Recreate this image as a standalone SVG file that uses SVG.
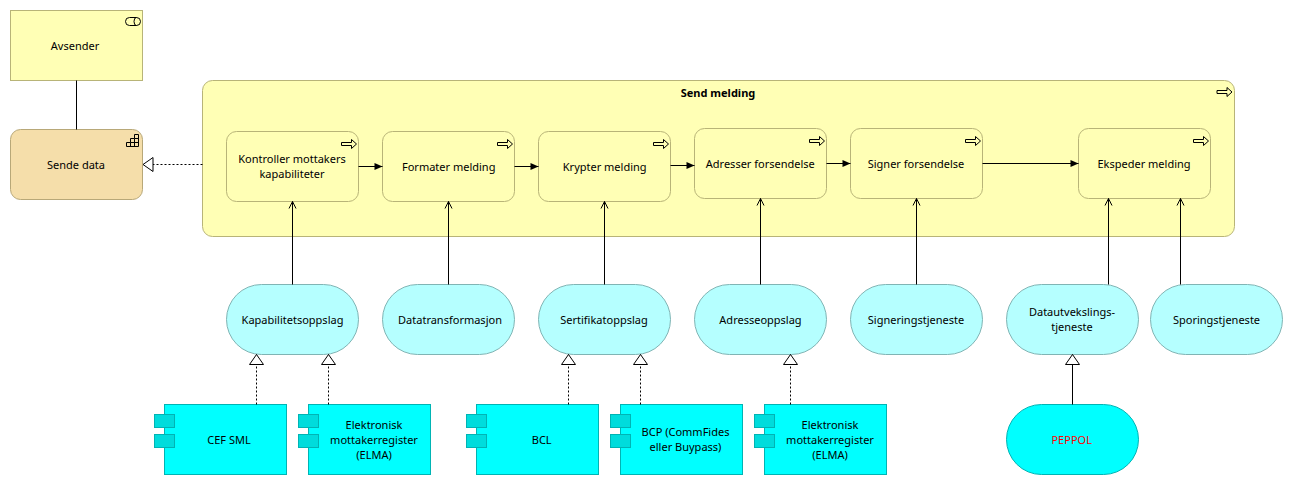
<svg xmlns="http://www.w3.org/2000/svg" width="1293" height="485" viewBox="0 0 1293 485">
<style>
text{font-family:"Noto Sans","Open Sans","DejaVu Sans",sans-serif;font-size:11px;fill:#000;text-anchor:middle}
.y{fill:#ffffb5;stroke:#b8b478;stroke-width:1}
.s{fill:#b5ffff;stroke:#80b4b4;stroke-width:1}
.c{fill:#00ffff;stroke:#00b4b4;stroke-width:1}
.t{fill:#00dcdc;stroke:#00b4b4;stroke-width:1}
.ic{fill:none;stroke:#000;stroke-width:1}
.l{fill:none;stroke:#000;stroke-width:1}
.d{stroke-dasharray:2 2}
</style>
<defs>
<path id="pa" class="ic" d="M0.5 3.500H10.500V0.500L15.500 5L10.500 9.500V6.500H0.500Z"/>
<marker id="fl" viewBox="0 0 10 10" refX="9" refY="5" markerWidth="10" markerHeight="10" markerUnits="userSpaceOnUse" orient="auto"><path d="M1 1.500L9 5L1 8.500Z" fill="#000"/></marker>
<marker id="op" viewBox="0 0 10 10" refX="9" refY="5" markerWidth="10" markerHeight="10" markerUnits="userSpaceOnUse" orient="auto"><path d="M2 1.500L9 5L2 8.500" fill="none" stroke="#000"/></marker>
<marker id="tr" viewBox="0 0 12 16" refX="11" refY="8" markerWidth="12" markerHeight="16" markerUnits="userSpaceOnUse" orient="auto"><path d="M1 1L11 8L1 15Z" fill="#fff" stroke="#000"/></marker>
</defs>
<g id="send-melding"><rect class="y" x="202.500" y="80.500" width="1032" height="156" rx="10"/><use href="#pa" x="1216.500" y="87"/><text x="718" y="97" style="font-weight:700">Send melding</text></g>
<g id="avsender"><rect class="y" x="10.500" y="10.500" width="132" height="70"/><rect class="ic" x="125.500" y="17.500" width="15" height="8" rx="4"/><path class="ic" d="M136.500 17.500a2.500 4 0 0 0 0 8"/><text x="75" y="49.500">Avsender</text></g>
<g id="sende-data"><rect x="10.500" y="129.500" width="132" height="70" rx="10" fill="#f5deaa" stroke="#b8a878"/><path class="ic" d="M126.500 146.500H138.500V134.500H134.500V138.500H130.500V142.500H126.500ZM130.500 142.500V146.500M134.500 138.500V146.500M130.500 142.500H138.500M134.500 138.500H138.500"/><text x="76" y="168.500">Sende data</text></g>
<g id="kontroller"><rect class="y" x="226.500" y="131.500" width="132" height="70" rx="10"/><use href="#pa" x="341" y="139"/><text x="292" y="163">Kontroller mottakers</text><text x="292" y="178">kapabiliteter</text></g>
<g id="formater"><rect class="y" x="382.500" y="131.500" width="132" height="70" rx="10"/><use href="#pa" x="497" y="139"/><text x="448.700" y="171">Formater melding</text></g>
<g id="krypter"><rect class="y" x="538.500" y="131.500" width="132" height="70" rx="10"/><use href="#pa" x="653" y="139"/><text x="604.700" y="171">Krypter melding</text></g>
<g id="adresser"><rect class="y" x="694.500" y="128.500" width="132" height="70" rx="10"/><use href="#pa" x="809" y="136"/><text x="760.300" y="168">Adresser forsendelse</text></g>
<g id="signer"><rect class="y" x="850.500" y="128.500" width="132" height="70" rx="10"/><use href="#pa" x="965" y="136"/><text x="916" y="168">Signer forsendelse</text></g>
<g id="ekspeder"><rect class="y" x="1078.500" y="128.500" width="132" height="70" rx="10"/><use href="#pa" x="1193" y="136"/><text x="1144" y="168">Ekspeder melding</text></g>
<g id="kapabilitetsoppslag"><rect class="s" x="226.500" y="284.500" width="132" height="70" rx="35"/><text x="292.500" y="324">Kapabilitetsoppslag</text></g>
<g id="datatransformasjon"><rect class="s" x="382.500" y="284.500" width="132" height="70" rx="35"/><text x="450" y="324">Datatransformasjon</text></g>
<g id="sertifikatoppslag"><rect class="s" x="538.500" y="284.500" width="132" height="70" rx="35"/><text x="604" y="324">Sertifikatoppslag</text></g>
<g id="adresseoppslag"><rect class="s" x="694.500" y="284.500" width="132" height="70" rx="35"/><text x="760.500" y="324">Adresseoppslag</text></g>
<g id="signeringstjeneste"><rect class="s" x="850.500" y="284.500" width="132" height="70" rx="35"/><text x="916" y="324">Signeringstjeneste</text></g>
<g id="datautveksling"><rect class="s" x="1006.500" y="284.500" width="132" height="70" rx="35"/><text x="1072" y="316">Datautvekslings-</text><text x="1072" y="331">tjeneste</text></g>
<g id="sporingstjeneste"><rect class="s" x="1150.500" y="284.500" width="132" height="70" rx="35"/><text x="1216.500" y="324">Sporingstjeneste</text></g>
<g id="cef-sml"><rect class="c" x="164.500" y="404.500" width="122" height="70"/><rect class="t" x="154.500" y="414.500" width="20" height="13"/><rect class="t" x="154.500" y="434.500" width="20" height="13"/><text x="229" y="444">CEF SML</text></g>
<g id="elma-1"><rect class="c" x="308.500" y="404.500" width="122" height="70"/><rect class="t" x="298.500" y="414.500" width="20" height="13"/><rect class="t" x="298.500" y="434.500" width="20" height="13"/><text x="374" y="429">Elektronisk</text><text x="374" y="444">mottakerregister</text><text x="374" y="459">(ELMA)</text></g>
<g id="bcl"><rect class="c" x="476.500" y="404.500" width="122" height="70"/><rect class="t" x="466.500" y="414.500" width="20" height="13"/><rect class="t" x="466.500" y="434.500" width="20" height="13"/><text x="541.700" y="444">BCL</text></g>
<g id="bcp"><rect class="c" x="620.500" y="404.500" width="122" height="70"/><rect class="t" x="610.500" y="414.500" width="20" height="13"/><rect class="t" x="610.500" y="434.500" width="20" height="13"/><text x="685.500" y="436">BCP (CommFides</text><text x="685.500" y="451">eller Buypass)</text></g>
<g id="elma-2"><rect class="c" x="764.500" y="404.500" width="122" height="70"/><rect class="t" x="754.500" y="414.500" width="20" height="13"/><rect class="t" x="754.500" y="434.500" width="20" height="13"/><text x="830" y="429">Elektronisk</text><text x="830" y="444">mottakerregister</text><text x="830" y="459">(ELMA)</text></g>
<g id="peppol"><rect class="c" x="1006.500" y="404.500" width="132" height="70" rx="35"/><text x="1071.700" y="444" style="fill:#ff0000">PEPPOL</text></g>
<g id="connectors">
<path class="l" d="M76.500 80.500V129.500"/>
<path class="l d" d="M202.500 164.500H143" marker-end="url(#tr)"/>
<path class="l" d="M358.500 166.500H382.500" marker-end="url(#fl)"/>
<path class="l" d="M514.500 166.500H538.500" marker-end="url(#fl)"/>
<path class="l" d="M670.500 165.500H694.500" marker-end="url(#fl)"/>
<path class="l" d="M826.500 163.500H850.500" marker-end="url(#fl)"/>
<path class="l" d="M982.500 163.500H1078.500" marker-end="url(#fl)"/>
<path class="l" d="M292.500 284.500V201.500" marker-end="url(#op)"/>
<path class="l" d="M448.500 284.500V201.500" marker-end="url(#op)"/>
<path class="l" d="M604.500 284.500V201.500" marker-end="url(#op)"/>
<path class="l" d="M760.500 284.500V198.500" marker-end="url(#op)"/>
<path class="l" d="M916.500 284.500V198.500" marker-end="url(#op)"/>
<path class="l" d="M1108.500 284.500V198.500" marker-end="url(#op)"/>
<path class="l" d="M1180.500 284.500V198.500" marker-end="url(#op)"/>
<path class="l d" d="M256.500 404.500V354.500" marker-end="url(#tr)"/>
<path class="l d" d="M328.500 404.500V354.500" marker-end="url(#tr)"/>
<path class="l d" d="M568.500 404.500V354.500" marker-end="url(#tr)"/>
<path class="l d" d="M640.500 404.500V354.500" marker-end="url(#tr)"/>
<path class="l d" d="M790.500 404.500V354.500" marker-end="url(#tr)"/>
<path class="l" d="M1072.500 404.500V354.500" marker-end="url(#tr)"/>
</g>
</svg>
